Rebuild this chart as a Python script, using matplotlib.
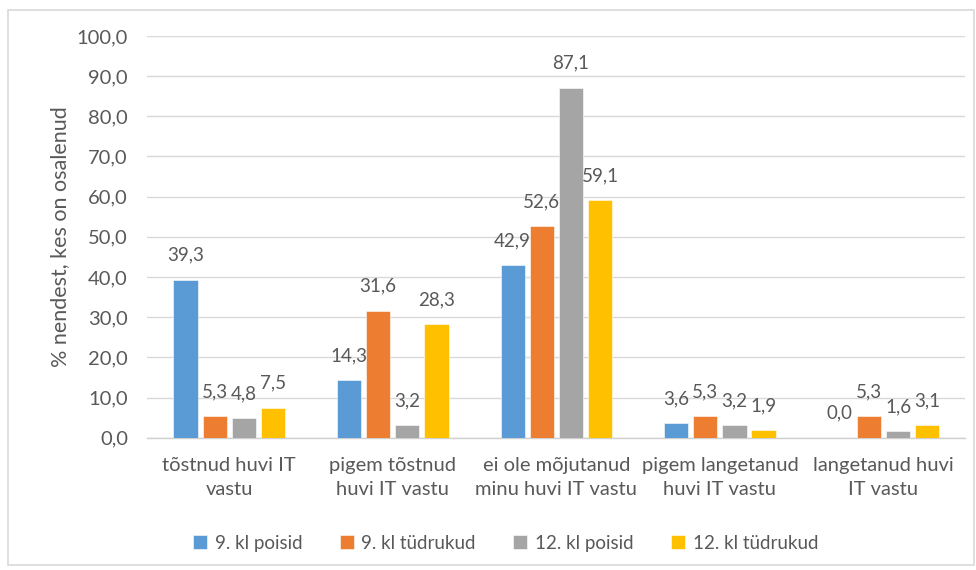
import matplotlib
matplotlib.use("Agg")
import matplotlib.pyplot as plt
from matplotlib.patches import Rectangle
import numpy as np

categories = [
    "tõstnud huvi IT\nvastu",
    "pigem tõstnud\nhuvi IT vastu",
    "ei ole mõjutanud\nminu huvi IT vastu",
    "pigem langetanud\nhuvi IT vastu",
    "langetanud huvi\nIT vastu",
]
series_names = ["9. kl poisid", "9. kl tüdrukud", "12. kl poisid", "12. kl tüdrukud"]
poisid_9 = [39.3, 14.3, 42.9, 3.6, 0.0]
tudrukud_9 = [5.3, 31.6, 52.6, 5.3, 5.3]
poisid_12 = [4.8, 3.2, 87.1, 3.2, 1.6]
tudrukud_12 = [7.5, 28.3, 59.1, 1.9, 3.1]
y_ticks = [0, 10, 20, 30, 40, 50, 60, 70, 80, 90, 100]

colors = ["#5B9BD5", "#ED7D31", "#A5A5A5", "#FFC000"]
text_color = "#595959"
font = "Lato"

plt.rcParams["font.family"] = [font, "DejaVu Sans"]

fig = plt.figure(figsize=(9.76, 5.70), dpi=100)
ax = fig.add_axes([0.151, 0.232, 0.838, 0.705])

x = np.arange(len(categories))
width = 0.148
step = 0.178
all_series = [poisid_9, tudrukud_9, poisid_12, tudrukud_12]
for i, (vals, name, col) in enumerate(zip(all_series, series_names, colors)):
    pos = x + (i - 1.5) * step
    bars = ax.bar(pos, vals, width, color=col, label=name, zorder=3,
                  edgecolor="white", linewidth=0.4)
    for b, v in zip(bars, vals):
        ax.annotate(f"{v:.1f}".replace(".", ","),
                    (b.get_x() + b.get_width() / 2, v),
                    xytext=(0, 11.5), textcoords="offset points",
                    ha="center", va="bottom", fontsize=13.5, color=text_color)

ax.set_xlim(-0.5, len(categories) - 0.5)
ax.set_ylim(0, 100)
ax.set_yticks(y_ticks)
ax.set_yticklabels([f"{t:.1f}".replace(".", ",") for t in y_ticks],
                   fontsize=14.5, color=text_color)
ax.set_xticks(x)
ax.set_xticklabels(categories, fontsize=14.5, color=text_color, linespacing=1.5)
ax.tick_params(axis="both", length=0)
ax.tick_params(axis="y", pad=14)
ax.tick_params(axis="x", pad=14)
ax.grid(axis="y", color="#D9D9D9", linewidth=1.0, zorder=0)
for s in ["top", "right", "left"]:
    ax.spines[s].set_visible(False)
ax.spines["bottom"].set_color("#D0D0D0")
ax.spines["bottom"].set_linewidth(1.0)

ax.set_ylabel("% nendest, kes on osalenud", fontsize=15.5, color=text_color, labelpad=5)

leg = fig.legend(loc="center", bbox_to_anchor=(0.518, 0.047), ncol=4, frameon=False,
                 fontsize=13.5, handlelength=0.75, handleheight=0.75,
                 handletextpad=0.4, columnspacing=2.0)
for t in leg.get_texts():
    t.set_color(text_color)

# outer chart border
fig.patches.append(Rectangle((0.008, 0.008), 0.99, 0.975, transform=fig.transFigure,
                             fill=False, edgecolor="#D9D9D9", linewidth=1.2))

fig.savefig("out.png", dpi=100, facecolor="white")
